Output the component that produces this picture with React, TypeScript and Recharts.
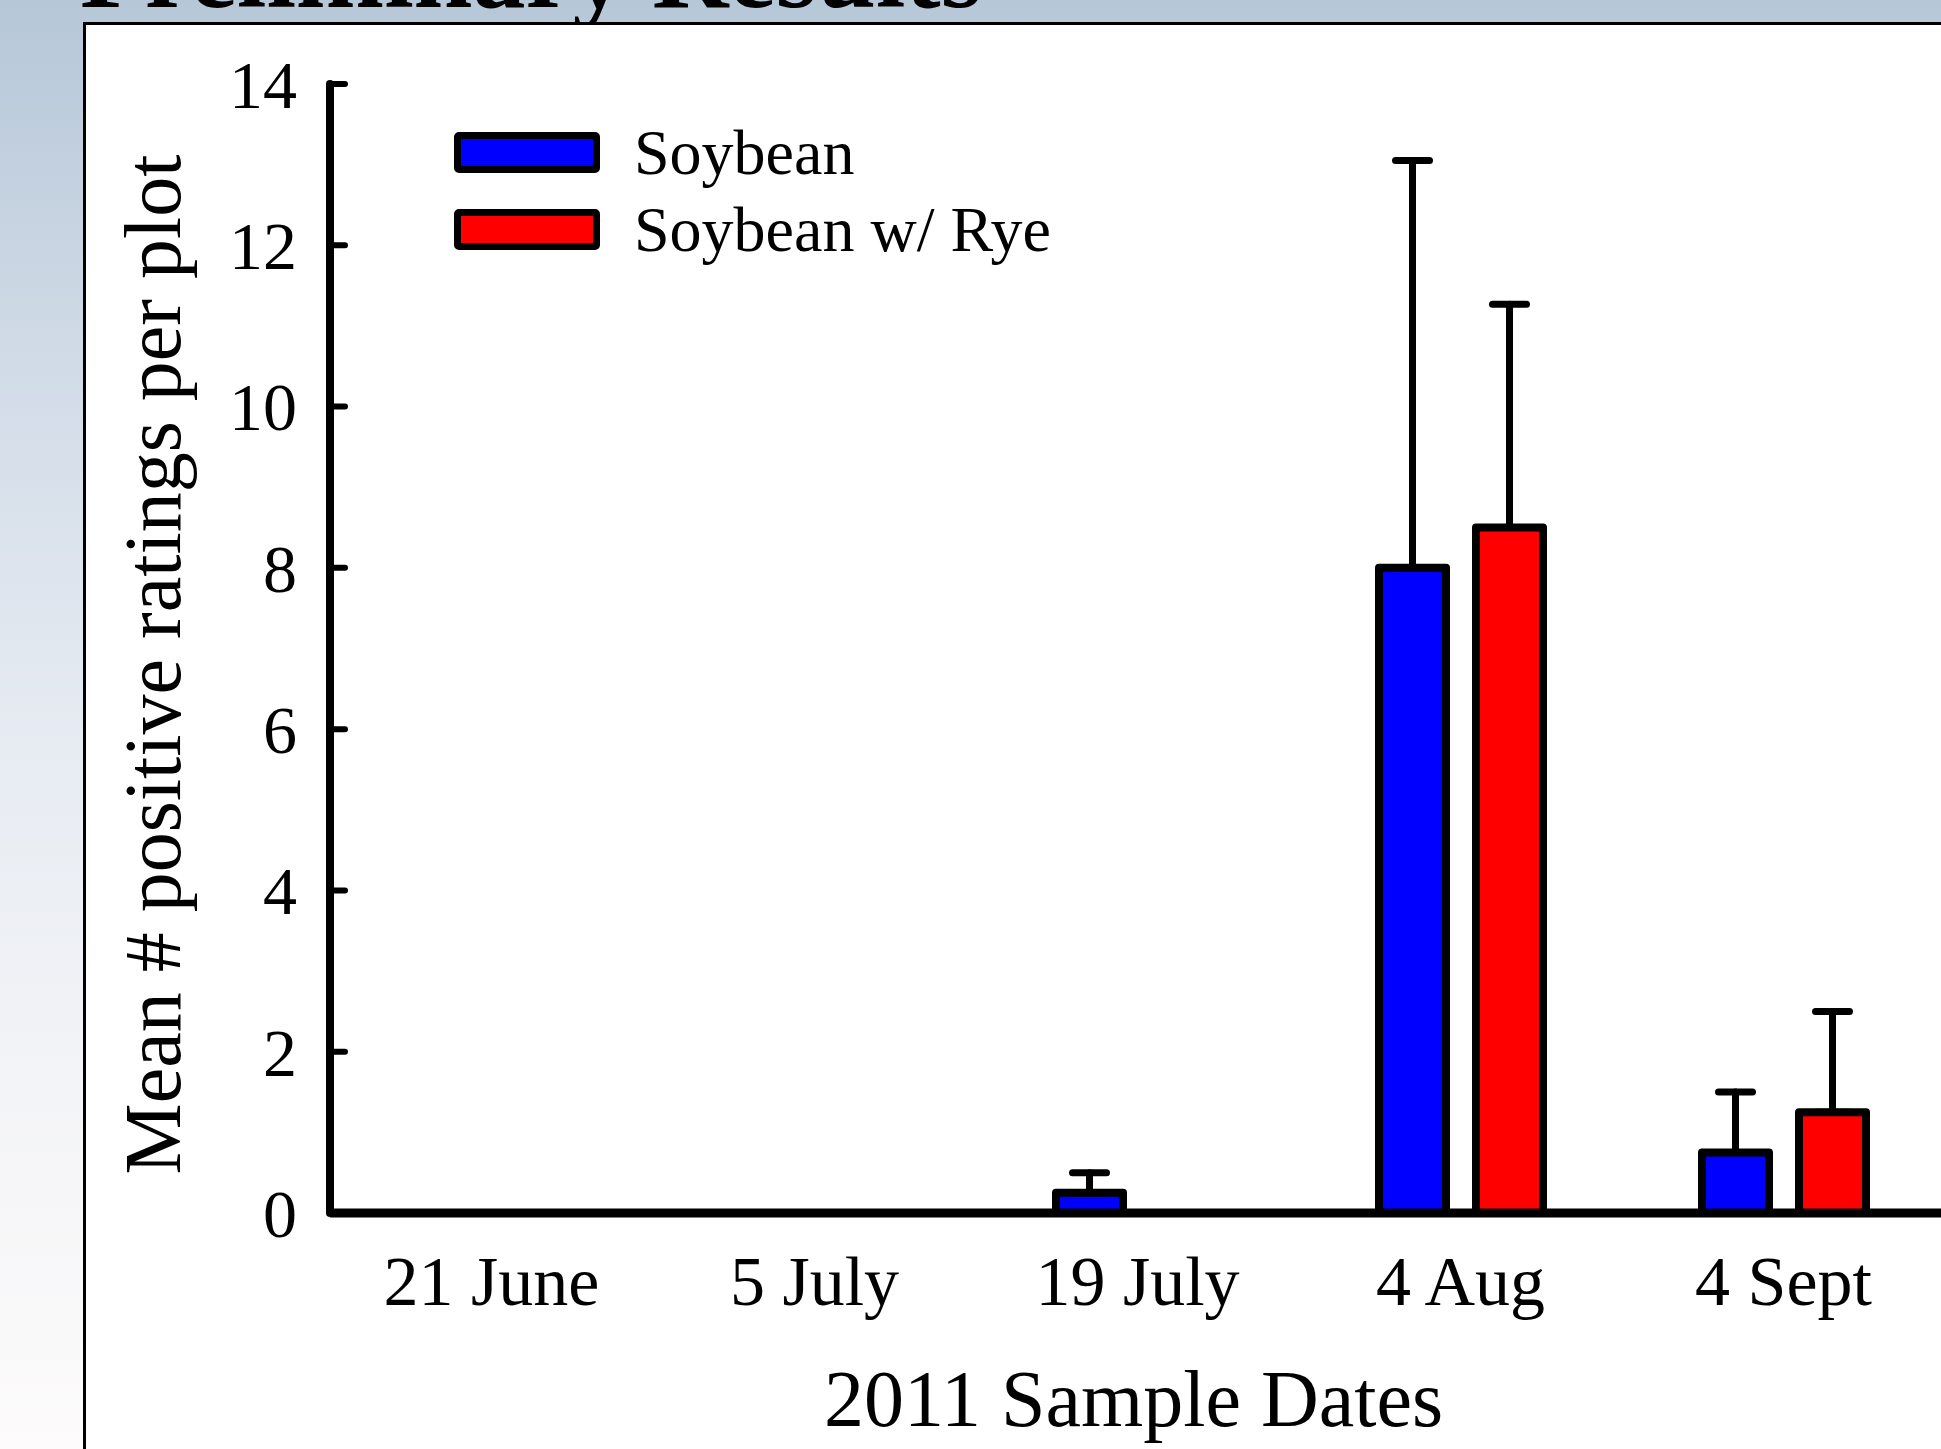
import React from 'react';
import { BarChart, Bar, XAxis, YAxis, ErrorBar, Legend } from 'recharts';

const TITLE = 'Preliminary Results';
const X_TITLE = '2011 Sample Dates';
const Y_TITLE = 'Mean # positive ratings per plot';

const DATES = ['21 June', '5 July', '19 July', '4 Aug', '4 Sept'];
const SOYBEAN = [0, 0, 0.25, 8, 0.75];
const SOYBEAN_ERR: (number | null)[] = [null, null, 0.25, 5.05, 0.75];
const RYE = [0, 0, 0, 8.5, 1.25];
const RYE_ERR: (number | null)[] = [null, null, null, 2.77, 1.25];
const Y_TICKS = [0, 2, 4, 6, 8, 10, 12, 14];

const SERIES_NAMES = ['Soybean', 'Soybean w/ Rye'];
const SERIES_COLORS = ['#0000ff', '#ff0000'];

const SERIF = '"Liberation Serif", "Times New Roman", Times, serif';

const data = DATES.map((d, i) => ({
  date: d,
  soy: SOYBEAN[i],
  soyErr: SOYBEAN_ERR[i] == null ? null : [0, SOYBEAN_ERR[i]],
  rye: RYE[i],
  ryeErr: RYE_ERR[i] == null ? null : [0, RYE_ERR[i]],
}));

const YTick = (props: any) => {
  const { x, y, payload } = props;
  return (
    <g>
      <line x1={x} x2={x + 15} y1={y} y2={y} stroke="#000" strokeWidth={6} strokeLinecap="round" />
      <text x={x - 33} y={y} dy="0.35em" textAnchor="end" fontFamily={SERIF} fontSize={68} fill="#000">
        {payload.value}
      </text>
    </g>
  );
};

const YLabel = (props: any) => {
  const vb = props.viewBox || { x: 0, y: 84, width: 330, height: 1129 };
  const cx = vb.x + 180;
  const cy = vb.y + vb.height / 2 + 16;
  return (
    <text
      x={cx}
      y={cy}
      transform={`rotate(-90 ${cx} ${cy})`}
      textAnchor="middle"
      fontFamily={SERIF}
      fontSize={80}
      fill="#000"
    >
      {Y_TITLE}
    </text>
  );
};

const XLabel = (props: any) => {
  const vb = props.viewBox || { x: 330, y: 1213, width: 1615, height: 236 };
  const cx = vb.x + vb.width / 2 - 4;
  const cy = vb.y + 213;
  return (
    <text x={cx} y={cy} textAnchor="middle" fontFamily={SERIF} fontSize={80} fill="#000">
      {X_TITLE}
    </text>
  );
};

const renderLegend = (props: any) => {
  const payload = props.payload || [];
  return (
    <div style={{ display: 'flex', flexDirection: 'column' }}>
      {payload.map((e: any, i: number) => (
        <div key={i} style={{ display: 'flex', alignItems: 'center', height: 77 }}>
          <div
            style={{
              width: 146,
              height: 41,
              boxSizing: 'border-box',
              border: '7px solid #000',
              borderRadius: 5,
              background: e.color || (e.payload && e.payload.fill),
            }}
          />
          <span
            style={{
              marginLeft: 34,
              fontFamily: SERIF,
              fontSize: 64,
              lineHeight: '64px',
              color: '#000',
              whiteSpace: 'nowrap',
            }}
          >
            {e.value}
          </span>
        </div>
      ))}
    </div>
  );
};

export default function App() {
  return (
    <div
      style={{
        position: 'absolute',
        left: 0,
        top: 0,
        width: 1941,
        height: 1449,
        overflow: 'hidden',
        background: 'linear-gradient(to bottom, #b6c7d8 0%, #d1dbe7 25%, #e6ebf2 50%, #f3f4f7 75%, #fdfbfb 100%)',
      }}
    >
      <div
        style={{
          position: 'absolute',
          left: 80,
          top: -81,
          fontFamily: SERIF,
          fontWeight: 'bold',
          fontSize: 106,
          lineHeight: '106px',
          color: '#000',
          whiteSpace: 'nowrap',
        }}
      >
        {TITLE}
      </div>
      <div
        style={{
          position: 'absolute',
          left: 83,
          top: 22,
          width: 1941,
          height: 1500,
          background: '#fff',
          border: '3px solid #000',
        }}
      />
      <div style={{ position: 'absolute', left: 0, top: 0 }}>
        <BarChart
          width={1941}
          height={1449}
          data={data}
          margin={{ top: 84, right: -4, bottom: 0, left: 0 }}
          barGap={30}
        >
          <XAxis
            dataKey="date"
            height={236}
            tickLine={false}
            tickSize={0}
            tickMargin={42}
            axisLine={{ stroke: '#000', strokeWidth: 9 }}
            tick={{ fill: '#000', fontSize: 70, fontFamily: SERIF }}
            interval={0}
            label={XLabel}
          />
          <YAxis
            width={330}
            domain={[0, 14]}
            ticks={Y_TICKS}
            tickSize={0}
            tickMargin={0}
            tickLine={false}
            axisLine={{ stroke: '#000', strokeWidth: 8, strokeLinecap: 'round' }}
            tick={YTick}
            interval={0}
            label={YLabel}
          />
          <Legend
            content={renderLegend}
            layout="horizontal"
            verticalAlign="middle"
            align="center"
            wrapperStyle={{ position: 'absolute', left: 454, top: 114, width: 'auto', height: 'auto' }}
          />
          <Bar
            dataKey="soy"
            name={SERIES_NAMES[0]}
            fill={SERIES_COLORS[0]}
            stroke="#000"
            strokeWidth={8}
            strokeLinejoin="round"
            barSize={67}
            isAnimationActive={false}
          >
            <ErrorBar dataKey="soyErr" direction="y" width={17} stroke="#000" strokeWidth={7} strokeLinecap="round" />
          </Bar>
          <Bar
            dataKey="rye"
            name={SERIES_NAMES[1]}
            fill={SERIES_COLORS[1]}
            stroke="#000"
            strokeWidth={8}
            strokeLinejoin="round"
            barSize={67}
            isAnimationActive={false}
          >
            <ErrorBar dataKey="ryeErr" direction="y" width={17} stroke="#000" strokeWidth={7} strokeLinecap="round" />
          </Bar>
        </BarChart>
      </div>
    </div>
  );
}
